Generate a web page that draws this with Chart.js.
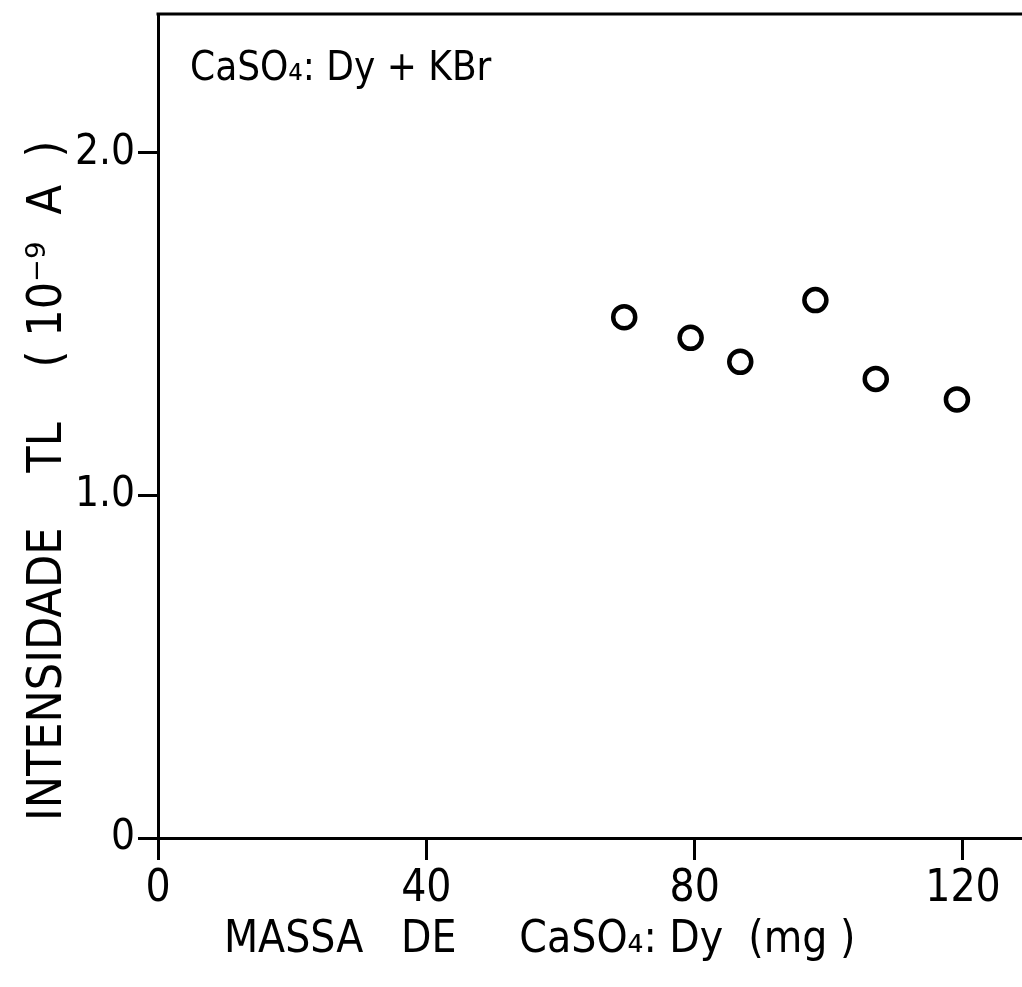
<!DOCTYPE html>
<html>
<head>
<meta charset="utf-8">
<script src="https://cdn.jsdelivr.net/npm/chart.js@4/dist/chart.umd.min.js"></script>
<style>
  html, body { margin: 0; padding: 0; background: #fff; overflow: hidden; }
  #wrap { width: 1022px; height: 987px; }
</style>
</head>
<body>
<div id="wrap"><canvas id="tlChart" width="1022" height="987"></canvas></div>
<script>
// --- dados ---
const massa       = [69.5, 79.4, 86.8, 98.0, 107.0, 119.1];   // mg de CaSO4:Dy
const intensidade = [1.52, 1.46, 1.39, 1.57, 1.34, 1.28];     // 10^-9 A
const xTicks      = [0, 40, 80, 120];
const yTicks      = [0, 1.0, 2.0];
const yTickLabels = ['0', '1.0', '2.0'];

const FONT = "'DejaVu Sans Condensed', 'DejaVu Sans', sans-serif";
const INK  = '#000';

// borda superior do gráfico + texto da amostra
const framePlugin = {
    id: 'frame',
    afterDraw(chart) {
        const { ctx, chartArea } = chart;
        ctx.save();
        ctx.strokeStyle = INK;
        ctx.lineWidth = 3;
        ctx.beginPath();
        ctx.moveTo(chartArea.left - 1.5, chartArea.top);
        ctx.lineTo(chartArea.right + 5, chartArea.top);
        ctx.stroke();

        ctx.fillStyle = INK;
        ctx.font = `40px ${FONT}`;
        ctx.textBaseline = 'middle';
        ctx.fillText('CaSO₄: Dy + KBr', chartArea.left + 32, chartArea.top + 56);
        ctx.restore();
    }
};

// tira o espaço extra que o Chart.js reserva para os rótulos das pontas
function noEdgePadding(s) {
    s.paddingTop = 0;
    s.paddingBottom = 0;
    s.paddingLeft = 0;
    s.paddingRight = 0;
}

const ctx = document.getElementById('tlChart').getContext('2d');

new Chart(ctx, {
    type: 'scatter',
    data: {
        datasets: [{
            label: 'CaSO4:Dy + KBr',
            data: massa.map((m, i) => ({ x: m, y: intensidade[i] })),
            pointStyle: 'circle',
            pointRadius: 11,
            pointBorderWidth: 4.5,
            pointBorderColor: INK,
            pointBackgroundColor: '#fff',
            showLine: false
        }]
    },
    options: {
        responsive: false,
        animation: false,
        devicePixelRatio: 1,
        layout: { autoPadding: false, padding: { top: 14, right: 0, left: 0, bottom: 0 } },
        plugins: {
            legend: { display: false },
            tooltip: { enabled: false }
        },
        scales: {
            x: {
                type: 'linear',
                min: 0,
                max: 128.8,
                afterFit: (s) => { s.height = 149; noEdgePadding(s); },
                afterBuildTicks: (s) => { s.ticks = xTicks.map(v => ({ value: v })); },
                ticks: {
                    color: INK,
                    font: { family: FONT, size: 44 },
                    padding: 3,
                    maxRotation: 0,
                    callback: (v) => String(v)
                },
                grid: {
                    display: true,
                    drawOnChartArea: false,
                    drawTicks: true,
                    tickLength: 22,
                    lineWidth: 3,
                    color: INK
                },
                border: { display: true, width: 3, color: INK },
                title: {
                    display: true,
                    text: 'MASSA   DE     CaSO₄: Dy  (mg )        ',
                    color: INK,
                    font: { family: FONT, size: 44 },
                    padding: { top: 0, bottom: 20 }
                }
            },
            y: {
                type: 'linear',
                min: 0,
                max: 2.405,
                afterFit: (s) => { s.width = 158; noEdgePadding(s); },
                afterBuildTicks: (s) => { s.ticks = yTicks.map(v => ({ value: v })); },
                ticks: {
                    color: INK,
                    font: { family: FONT, size: 42 },
                    padding: 3,
                    callback: (v) => yTickLabels[yTicks.indexOf(v)]
                },
                grid: {
                    display: true,
                    drawOnChartArea: false,
                    drawTicks: true,
                    tickLength: 20,
                    lineWidth: 3,
                    color: INK
                },
                border: { display: true, width: 3, color: INK },
                title: {
                    display: true,
                    text: 'INTENSIDADE    TL    ( 10⁻⁹  A  )        ',
                    color: INK,
                    font: { family: FONT, size: 48 },
                    padding: { top: 20, bottom: 0 }
                }
            }
        }
    },
    plugins: [framePlugin]
});
</script>
</body>
</html>
